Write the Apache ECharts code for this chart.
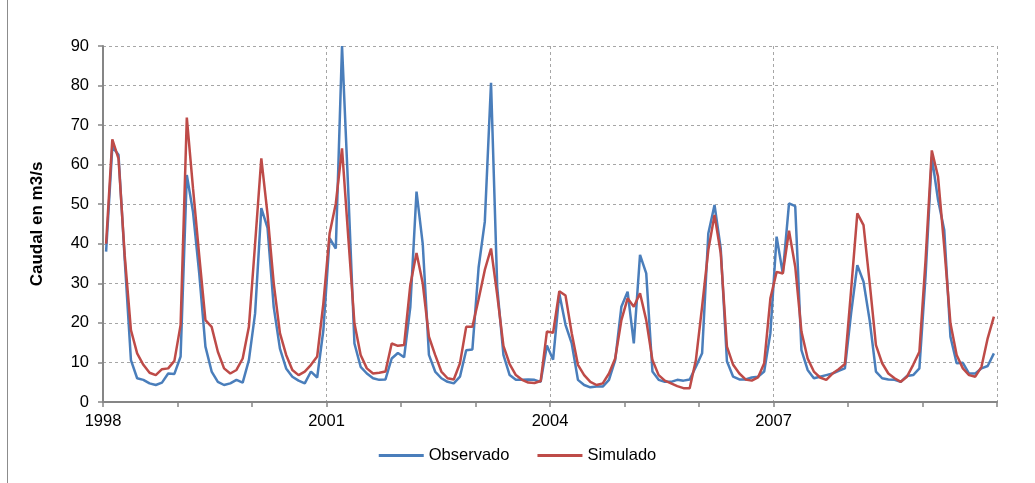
<!DOCTYPE html>
<html>
<head>
<meta charset="utf-8">
<script src="https://cdn.jsdelivr.net/npm/echarts@6/dist/echarts.min.js"></script>
<style>
  html, body { margin: 0; padding: 0; background: #fff; }
  #chart { width: 1035px; height: 483px; }
</style>
</head>
<body>
<div id="chart"></div>
<script>
// monthly flows, Jan 1998 .. Dec 2009
const startYear = 1998;
const endYear = 2010;
const labelYears = [1998, 2001, 2004, 2007];

const observado = [
  38, 64.5, 62.5, 36, 10.6, 6.0, 5.6, 4.7, 4.3, 4.9, 7.2, 7.1,
  11.5, 57.4, 48, 32.5, 14.0, 7.7, 5.1, 4.3, 4.7, 5.6, 4.9, 10.6,
  22.4, 49.0, 44, 24, 13.5, 8.5, 6.4, 5.4, 4.7, 7.7, 6.2, 18.2,
  41.4, 38.8, 90, 53.6, 14.8, 8.9, 7.2, 6.0, 5.6, 5.7, 11.0, 12.4,
  11.3, 24, 53.2, 40, 11.9, 7.7, 6.0, 5.1, 4.7, 6.4, 13.1, 13.3,
  34, 45.6, 80.7, 29, 11.9, 6.8, 5.6, 5.6, 5.7, 5.6, 5.1, 14.3,
  10.7, 27.4, 19.5, 14.8, 5.6, 4.3, 3.7, 3.9, 3.9, 5.6, 10.6, 24.1,
  27.9, 14.8, 37.2, 32.5, 7.7, 5.6, 5.1, 5.1, 5.6, 5.4, 5.7, 8.9,
  12.3, 42.6, 49.8, 38.8, 10.3, 6.4, 5.7, 5.7, 6.2, 6.4, 7.7, 17.4,
  41.8, 32.5, 50.2, 49.5, 13.1, 8.1, 6.0, 6.4, 6.8, 7.2, 7.9, 8.5,
  22.4, 34.6, 30.4, 20.5, 7.7, 6.0, 5.7, 5.6, 5.1, 6.6, 6.8, 8.5,
  32, 62.0, 51.1, 43.5, 16.5, 9.8, 9.9, 7.2, 7.2, 8.5, 9.1, 12.3
];

const simulado = [
  40, 66.4, 61.5, 37, 18.2, 12.3, 9.4, 7.4, 6.8, 8.3, 8.5, 10.4,
  19.5, 71.9, 54, 37, 20.7, 19.0, 12.7, 8.5, 7.2, 8.1, 11.0, 19.0,
  40, 61.6, 47.5, 30, 17.4, 11.9, 8.1, 6.8, 7.7, 9.4, 11.5, 25,
  42.6, 50.2, 64.1, 41.8, 19.9, 11.9, 8.5, 7.2, 7.4, 7.7, 14.8, 14.2,
  14.4, 29.6, 37.7, 30.0, 16.5, 11.9, 7.7, 6.0, 5.7, 9.8, 19.0, 19.0,
  26, 33.4, 38.8, 27, 14.2, 9.6, 6.8, 5.6, 4.9, 4.8, 5.3, 17.8,
  17.5, 28, 26.9, 17.4, 9.4, 6.8, 5.1, 4.3, 4.7, 7.2, 11.0, 20.7,
  26.2, 24.1, 27.5, 20.7, 10.6, 6.8, 5.4, 4.7, 4.0, 3.5, 3.5, 10.6,
  24.1, 38.4, 47.3, 37.6, 14.0, 9.4, 7.2, 5.7, 5.4, 6.2, 9.8, 26.2,
  32.9, 32.5, 43.3, 34.2, 17.8, 11.0, 7.7, 6.2, 5.6, 7.2, 8.3, 9.6,
  28.3, 47.7, 44.7, 30, 14.4, 9.8, 7.2, 6.0, 5.1, 6.4, 9.4, 12.7,
  36, 63.6, 57.0, 39.3, 19.9, 11.9, 8.5, 6.8, 6.4, 8.9, 16.1, 21.6
];

// each value sits in the middle of its month
const toPoints = values => values.map((v, i) => [startYear + (i + 0.5) / 12, v]);

const font = "'Liberation Sans', Arial, sans-serif";
const gridColor = '#a6a6a6';
const axisColor = '#868686';

const chart = echarts.init(document.getElementById('chart'), null, { renderer: 'canvas' });

chart.setOption({
  animation: false,
  backgroundColor: '#fff',
  textStyle: { fontFamily: font, color: '#000' },
  grid: { left: 103, top: 46, right: 38, bottom: 81 },
  graphic: [
    {
      type: 'line',
      shape: { x1: 7.5, y1: 0, x2: 7.5, y2: 483 },
      style: { stroke: '#8c8c8c', lineWidth: 1 }
    }
  ],
  legend: {
    bottom: 14,
    left: 'center',
    icon: 'rect',
    itemWidth: 45,
    itemHeight: 3,
    itemGap: 28,
    textStyle: { fontSize: 16.5, fontFamily: font, color: '#000' },
    data: ['Observado', 'Simulado']
  },
  xAxis: {
    type: 'value',
    min: startYear,
    max: endYear,
    interval: 1,
    axisLine: { show: true, onZero: false, lineStyle: { color: axisColor, width: 2 } },
    axisTick: { show: true, inside: false, length: 5, lineStyle: { color: axisColor, width: 1.5 } },
    axisLabel: {
      margin: 11,
      fontSize: 16.5,
      color: '#000',
      formatter: v => {
        const y = Math.round(v);
        return labelYears.includes(y) ? String(y) : '';
      }
    },
    splitLine: {
      show: true,
      lineStyle: {
        color: [gridColor, 'rgba(0,0,0,0)', 'rgba(0,0,0,0)'],
        type: [3, 3],
        width: 1
      }
    }
  },
  yAxis: {
    type: 'value',
    min: 0,
    max: 90,
    interval: 10,
    name: 'Caudal en m3/s',
    nameLocation: 'middle',
    nameGap: 57,
    nameTextStyle: { fontSize: 17, fontWeight: 'bold', color: '#000', fontFamily: font },
    axisLine: { show: true, lineStyle: { color: axisColor, width: 2 } },
    axisTick: { show: true, inside: false, length: 5, lineStyle: { color: axisColor, width: 1.5 } },
    axisLabel: { margin: 14, fontSize: 16.5, color: '#000' },
    splitLine: { show: true, lineStyle: { color: gridColor, type: [3, 3], width: 1 } }
  },
  series: [
    {
      name: 'Observado',
      type: 'line',
      data: toPoints(observado),
      showSymbol: false,
      symbol: 'none',
      color: '#4a7ebb',
      lineStyle: { width: 2.5, color: '#4a7ebb' },
      clip: true,
      z: 2
    },
    {
      name: 'Simulado',
      type: 'line',
      data: toPoints(simulado),
      showSymbol: false,
      symbol: 'none',
      color: '#be4b48',
      lineStyle: { width: 2.5, color: '#be4b48' },
      clip: true,
      z: 3
    }
  ]
});
</script>
</body>
</html>
